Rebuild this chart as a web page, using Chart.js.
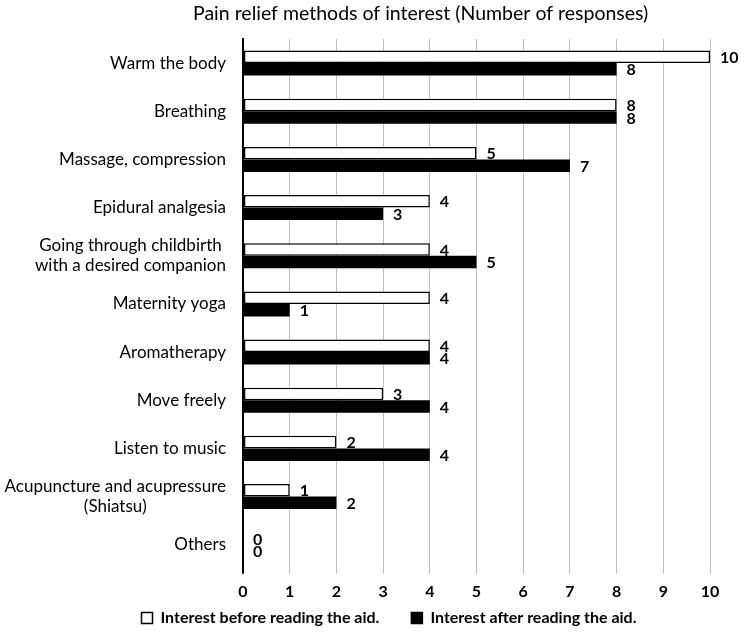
<!DOCTYPE html>
<html>
<head>
<meta charset="utf-8">
<script src="https://cdn.jsdelivr.net/npm/chart.js@4/dist/chart.umd.min.js"></script>
<style>
  html, body { margin: 0; padding: 0; background: #ffffff; }
  #wrap { width: 744px; height: 633px; position: relative; }
</style>
</head>
<body>
<div id="wrap"><canvas id="c" width="744" height="633"></canvas></div>
<script>
const chartTitle = "Pain relief methods of interest (Number of responses)";
const categories = [
  "Warm the body",
  "Breathing",
  "Massage, compression",
  "Epidural analgesia",
  ["Going through childbirth", "with a desired companion"],
  "Maternity yoga",
  "Aromatherapy",
  "Move freely",
  "Listen to music",
  ["Acupuncture and acupressure", "(Shiatsu)"],
  "Others"
];
const seriesNames = ["Interest before reading the aid.", "Interest after reading the aid."];
const beforeValues = [10, 8, 5, 4, 4, 4, 4, 3, 2, 1, 0];
const afterValues  = [8, 8, 7, 3, 5, 1, 4, 4, 4, 2, 0];
const xTicks = [0, 1, 2, 3, 4, 5, 6, 7, 8, 9, 10];

const FONT = "Lato, 'Noto Sans', sans-serif";

const titlePlugin = {
  id: 'customTitle',
  afterDraw(chart) {
    const ctx = chart.ctx;
    ctx.save();
    ctx.font = "19.5px " + FONT;
    ctx.fillStyle = "#000";
    ctx.textAlign = "left";
    ctx.textBaseline = "middle";
    ctx.fillText(chartTitle, 193, 14);
    ctx.restore();
  }
};

const yLabelPlugin = {
  id: 'yLabels',
  afterDraw(chart) {
    const ctx = chart.ctx;
    const ys = chart.scales.y;
    ctx.save();
    ctx.font = "17px " + FONT;
    ctx.fillStyle = "#000";
    ctx.textAlign = "center";
    ctx.textBaseline = "middle";
    const rightEdge = ys.right - 17;
    chart.data.labels.forEach((lab, i) => {
      const lines = Array.isArray(lab) ? lab : [lab];
      const maxW = Math.max(...lines.map(l => ctx.measureText(l).width));
      const cx = rightEdge - maxW / 2;
      const cy = ys.getPixelForValue(i);
      lines.forEach((l, j) => {
        ctx.fillText(l, cx, cy + (j - (lines.length - 1) / 2) * 20);
      });
    });
    ctx.restore();
  }
};

const labelPlugin = {
  id: 'barLabels',
  afterDatasetsDraw(chart) {
    const ctx = chart.ctx;
    ctx.save();
    ctx.font = "bold 16px " + FONT;
    ctx.fillStyle = "#000";
    ctx.textAlign = "left";
    ctx.textBaseline = "middle";
    chart.data.datasets.forEach((ds, di) => {
      const meta = chart.getDatasetMeta(di);
      meta.data.forEach((bar, i) => {
        ctx.fillText(String(ds.data[i]), bar.x + 10, bar.y + 1);
      });
    });
    ctx.restore();
  }
};

const legendShift = {
  id: 'legendShift',
  afterLayout(chart) {
    const lg = chart.legend;
    if (!lg) return;
    lg.left += 34; lg.right += 34;
    lg.top -= 5; lg.bottom -= 5;
  }
};

new Chart(document.getElementById('c'), {
  type: 'bar',
  data: {
    labels: categories,
    datasets: [
      {
        label: seriesNames[0],
        data: beforeValues,
        backgroundColor: '#ffffff',
        borderColor: '#000000',
        borderWidth: 1.5,
        borderSkipped: false,
        categoryPercentage: 0.52,
        barPercentage: 1.0
      },
      {
        label: seriesNames[1],
        data: afterValues,
        backgroundColor: '#000000',
        borderColor: '#000000',
        borderWidth: 0,
        categoryPercentage: 0.52,
        barPercentage: 1.0
      }
    ]
  },
  options: {
    indexAxis: 'y',
    responsive: false,
    animation: false,
    devicePixelRatio: 1,
    layout: { padding: { top: 39, right: 34, left: 0, bottom: -8 } },
    scales: {
      x: {
        min: 0,
        max: 10,
        afterBuildTicks(scale) { scale.ticks = xTicks.map(v => ({ value: v })); },
        grid: {
          color: (c) => (c.tick && c.tick.value === 0) ? '#000000' : '#bfbfbf',
          lineWidth: (c) => (c.tick && c.tick.value === 0) ? 2 : 1,
          drawTicks: true,
          tickLength: 5
        },
        border: { display: false },
        ticks: {
          color: '#000',
          font: { family: FONT, size: 16, weight: 'bold' },
          padding: 8,
          maxRotation: 0
        }
      },
      y: {
        afterFit(scale) { scale.width = 243; },
        grid: { display: false, drawTicks: false },
        border: { display: true, color: '#000000', width: 2 },
        ticks: { display: false }
      }
    },
    plugins: {
      title: { display: false },
      tooltip: { enabled: false },
      legend: {
        position: 'bottom',
        labels: {
          color: '#000',
          font: { family: FONT, size: 16, weight: 'bold' },
          boxWidth: 11,
          boxHeight: 11,
          padding: 6,
          generateLabels(chart) {
            const items = Chart.defaults.plugins.legend.labels.generateLabels(chart);
            items.forEach((it, i) => {
              it.lineWidth = 1.5;
              if (i === 0) it.text = it.text + "\u2003\u2003\u2009";
            });
            return items;
          }
        }
      }
    }
  },
  plugins: [titlePlugin, yLabelPlugin, labelPlugin, legendShift]
});
</script>
</body>
</html>
